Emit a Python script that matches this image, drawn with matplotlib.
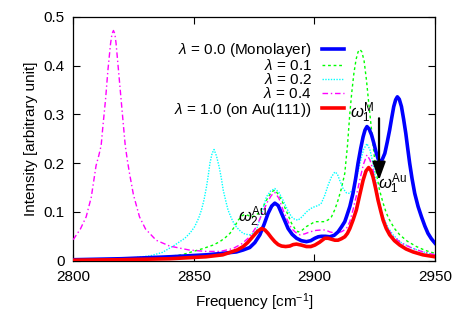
import matplotlib
matplotlib.use("Agg")
import matplotlib.pyplot as plt

plt.rcParams['font.family'] = ['Liberation Sans', 'DejaVu Sans']
plt.rcParams['mathtext.fontset'] = 'custom'
plt.rcParams['mathtext.rm'] = 'Liberation Sans'
plt.rcParams['mathtext.it'] = 'Liberation Sans:italic'

# lambda = 0.0 (Monolayer)
x_l00 = [2800, 2820, 2840, 2855, 2862, 2867.7, 2870.5, 2873.2, 2875.3, 2877.4, 2879.2, 2880.8, 2882.3,
         2883.6, 2885, 2886.4, 2887.8, 2889.1, 2890.8, 2892.6, 2894.6, 2896.7, 2898.5, 2900.2, 2901.6,
         2902.9, 2904.6, 2906.4, 2908.2, 2909.8, 2911.2, 2912.6, 2913.3, 2914.7, 2916.0, 2917.1, 2918.1,
         2919.2, 2920.2, 2921.0, 2921.8, 2922.7, 2923.7, 2924.7, 2925.7, 2926.4, 2927.1, 2928.1, 2929.2,
         2930.2, 2931.2, 2932.1, 2932.9, 2933.7, 2934.4, 2935.2, 2936.1, 2937.0, 2937.9, 2938.7, 2939.5,
         2940.5, 2941.6, 2943.0, 2944.4, 2945.8, 2947.1, 2948.5, 2950]
y_l00 = [0.002, 0.004, 0.008, 0.012, 0.015, 0.018, 0.022, 0.027, 0.037, 0.053, 0.075, 0.097, 0.112,
         0.118, 0.113, 0.097, 0.081, 0.066, 0.054, 0.046, 0.041, 0.039, 0.041, 0.046, 0.049,
         0.05, 0.05, 0.049, 0.052, 0.059, 0.069, 0.08, 0.09, 0.111, 0.138, 0.168, 0.2,
         0.23, 0.254, 0.268, 0.275, 0.27, 0.258, 0.24, 0.22, 0.209, 0.203, 0.207, 0.22,
         0.243, 0.268, 0.294, 0.316, 0.33, 0.336, 0.331, 0.316, 0.29, 0.261, 0.23, 0.2,
         0.168, 0.138, 0.111, 0.09, 0.071, 0.056, 0.045, 0.036]

# lambda = 0.1
x_l01 = [2800, 2820, 2835, 2845, 2853.9, 2858, 2860.8, 2863, 2865, 2866.8, 2868.4, 2870, 2871.2, 2872.5,
         2873.8, 2875.5, 2877.4, 2879.2, 2880.8, 2882.3, 2883.6, 2885.2, 2887, 2888.8, 2890.5, 2892,
         2893.2, 2894.8, 2896.7, 2898.5, 2900.2, 2902.2, 2904.3, 2905.8, 2907.1, 2908.5, 2909.8, 2911.2,
         2912.6, 2913.7, 2914.7, 2915.5, 2916.4, 2917.3, 2918.1, 2918.9, 2919.7, 2920.6, 2921.6, 2922.6,
         2923.7, 2924.7, 2925.7, 2927.0, 2928.5, 2929.8, 2931.2, 2933.2, 2935.4, 2938.5, 2942.3, 2946, 2950]
y_l01 = [0.001, 0.003, 0.006, 0.012, 0.025, 0.032, 0.039, 0.047, 0.056, 0.069, 0.083, 0.092, 0.095, 0.093,
         0.09, 0.092, 0.1, 0.115, 0.13, 0.141, 0.145, 0.135, 0.118, 0.097, 0.077, 0.065,
         0.059, 0.062, 0.07, 0.075, 0.08, 0.08, 0.08, 0.084, 0.09, 0.105, 0.124, 0.148,
         0.179, 0.235, 0.302, 0.345, 0.385, 0.413, 0.428, 0.433, 0.428, 0.41, 0.37, 0.32,
         0.268, 0.22, 0.179, 0.145, 0.118, 0.098, 0.083, 0.066, 0.053, 0.04, 0.029, 0.021, 0.015]

# lambda = 0.2
x_l02 = [2800, 2815, 2825, 2832, 2837, 2842.1, 2846.3, 2848.5, 2850.4, 2852, 2853.2, 2854.3, 2855.3,
         2856.1, 2856.7, 2857.6, 2858.4, 2859.4, 2860.5, 2861.4, 2862.2, 2863.2, 2864.2, 2865.6, 2867,
         2868.8, 2870.5, 2871.8, 2873.2, 2874.6, 2876, 2878, 2880.1, 2881.9, 2883.6, 2885.3, 2887,
         2888.8, 2890.5, 2891.8, 2893.2, 2894.9, 2896.7, 2898.5, 2900.2, 2901.6, 2902.9, 2904.3, 2905.7,
         2907.1, 2908.5, 2909.5, 2910.5, 2911.9, 2913.3, 2914.6, 2915.8, 2917.0, 2918.2, 2919.3, 2920.4,
         2921.8, 2923.0, 2924.3, 2925.4, 2926.4, 2927.5, 2928.5, 2930.5, 2932.6, 2936, 2940.9, 2945, 2950]
y_l02 = [0.001, 0.003, 0.006, 0.01, 0.017, 0.032, 0.046, 0.057, 0.07, 0.087, 0.104, 0.126, 0.152,
         0.178, 0.2, 0.22, 0.228, 0.215, 0.193, 0.17, 0.145, 0.124, 0.104, 0.087, 0.073,
         0.063, 0.056, 0.054, 0.053, 0.056, 0.063, 0.095, 0.131, 0.143, 0.148, 0.14, 0.124,
         0.105, 0.09, 0.085, 0.083, 0.09, 0.1, 0.107, 0.111, 0.113, 0.118, 0.134, 0.155,
         0.172, 0.182, 0.178, 0.165, 0.148, 0.139, 0.138, 0.145, 0.162, 0.185, 0.208, 0.228,
         0.24, 0.228, 0.2, 0.165, 0.131, 0.108, 0.09, 0.068, 0.053, 0.037, 0.025, 0.018, 0.012]

# lambda = 0.4
x_l04 = [2800, 2803, 2805.4, 2807.5, 2809.5, 2810.6, 2811.6, 2812.3, 2813.4, 2814.4, 2815.5, 2816.1,
         2816.7, 2817.3, 2817.8, 2818.8, 2819.9, 2820.9, 2821.6, 2822.5, 2823.4, 2825, 2827.5, 2830,
         2834.4, 2840, 2848, 2855, 2861, 2866.3, 2870, 2873.2, 2876, 2878.5, 2880.5, 2882.2, 2883.6,
         2885.3, 2887, 2888.8, 2890.5, 2892.2, 2894, 2896, 2898.1, 2900.5, 2902.9, 2904.6, 2906.4,
         2908.2, 2909.8, 2911.5, 2913.3, 2914.7, 2916, 2917.4, 2918.8, 2920.3, 2921.8, 2923.0, 2924.3,
         2925.4, 2926.4, 2927.5, 2928.5, 2930.5, 2932.6, 2936, 2940.9, 2945, 2950]
y_l04 = [0.043, 0.065, 0.09, 0.13, 0.195, 0.215, 0.236, 0.274, 0.329, 0.39, 0.445, 0.465,
         0.472, 0.465, 0.445, 0.39, 0.329, 0.274, 0.236, 0.205, 0.178, 0.135, 0.09, 0.065,
         0.042, 0.03, 0.022, 0.019, 0.019, 0.025, 0.035, 0.049, 0.07, 0.098, 0.12, 0.134, 0.14,
         0.128, 0.104, 0.083, 0.066, 0.058, 0.053, 0.055, 0.059, 0.062, 0.063, 0.063, 0.059,
         0.057, 0.057, 0.06, 0.066, 0.08, 0.104, 0.133, 0.165, 0.197, 0.217, 0.207, 0.186,
         0.158, 0.131, 0.107, 0.087, 0.065, 0.05, 0.036, 0.025, 0.018, 0.012]

# lambda = 1.0 (on Au(111))
x_l10 = [2800, 2820, 2840, 2855, 2862, 2865, 2868, 2870.5, 2872.3, 2874.6, 2876.4, 2878.1, 2879.5, 2880.8,
         2882.2, 2883.6, 2885, 2886.4, 2888.1, 2889.8, 2891.2, 2892.6, 2894.6, 2896.7, 2898.5, 2900.2,
         2902.2, 2904.3, 2905.7, 2907.1, 2908.5, 2909.8, 2911.2, 2912.6, 2913.7, 2914.7, 2916.0, 2917.4,
         2918.8, 2920.2, 2921.4, 2922.5, 2923.4, 2924.3, 2925.4, 2926.4, 2927.5, 2928.5, 2929.8, 2931.2,
         2933.2, 2935.4, 2938, 2940.9, 2945, 2950]
y_l10 = [0.001, 0.002, 0.004, 0.008, 0.012, 0.017, 0.022, 0.029, 0.037, 0.05, 0.06, 0.066, 0.063, 0.056,
         0.047, 0.039, 0.033, 0.03, 0.029, 0.03, 0.033, 0.034, 0.032, 0.029, 0.029, 0.032,
         0.038, 0.046, 0.046, 0.044, 0.042, 0.042, 0.045, 0.049, 0.056, 0.066, 0.083, 0.104,
         0.135, 0.165, 0.184, 0.191, 0.185, 0.172, 0.148, 0.124, 0.102, 0.083, 0.066, 0.053,
         0.041, 0.032, 0.024, 0.018, 0.012, 0.008]

labels = [r'$\lambda$ = 0.0 (Monolayer)', r'$\lambda$ = 0.1', r'$\lambda$ = 0.2',
          r'$\lambda$ = 0.4', r'$\lambda$ = 1.0 (on Au(111))']

fig = plt.figure(figsize=(4.63, 3.24), dpi=100)
ax = fig.add_axes([0.158, 0.1954, 0.7815, 0.7526])

ax.plot(x_l00, y_l00, color='#0000ff', lw=2.6, label=labels[0], zorder=5, solid_joinstyle='round')
ax.plot(x_l01, y_l01, color='#00ff00', lw=1.0, ls=(0, (2, 2)), label=labels[1], zorder=3)
ax.plot(x_l02, y_l02, color='#00ffff', lw=1.0, ls=(0, (1, 1)), label=labels[2], zorder=3)
ax.plot(x_l04, y_l04, color='#ff00ff', lw=1.0, ls=(0, (4, 2, 1, 2)), label=labels[3], zorder=3)
ax.plot(x_l10, y_l10, color='#ff0000', lw=2.6, label=labels[4], zorder=6, solid_joinstyle='round')

ax.set_xlim(2800, 2950)
ax.set_ylim(0, 0.5)
ax.set_xticks([2800, 2850, 2900, 2950])
ax.set_yticks([0, 0.1, 0.2, 0.3, 0.4, 0.5])
ax.set_yticklabels(['0', '0.1', '0.2', '0.3', '0.4', '0.5'])
ax.tick_params(direction='in', top=True, right=True, length=5, width=0.8, labelsize=11)
ax.tick_params(axis='x', pad=7)
ax.tick_params(axis='y', pad=6)
for s in ax.spines.values():
    s.set_linewidth(0.9)

ax.set_xlabel(r'Frequency [cm$^{-1}$]', fontsize=11, labelpad=5)
ax.set_ylabel('Intensity [arbitrary unit]', fontsize=11, labelpad=4)

leg = ax.legend(loc='upper right', bbox_to_anchor=(0.748, 0.9), frameon=False, markerfirst=False,
                fontsize=11, handlelength=1.4, handletextpad=0.7, labelspacing=-0.06,
                borderaxespad=0, borderpad=0)

ax.annotate('', xy=(2926.8, 0.165), xytext=(2926.8, 0.292),
            arrowprops=dict(arrowstyle='-|>,head_width=0.4,head_length=1.1', color='black', lw=1.6,
                            shrinkA=0, shrinkB=0),
            zorder=10)
ax.text(2920.0, 0.303, r'$\omega_1^{\rm M}$', fontsize=12, ha='center', va='center', zorder=10)
ax.text(2932.6, 0.157, r'$\omega_1^{\rm Au}$', fontsize=12, ha='center', va='center', zorder=10)
ax.text(2874.5, 0.090, r'$\omega_2^{\rm Au}$', fontsize=12, ha='center', va='center', zorder=10)

fig.savefig('out.png', dpi=100)
